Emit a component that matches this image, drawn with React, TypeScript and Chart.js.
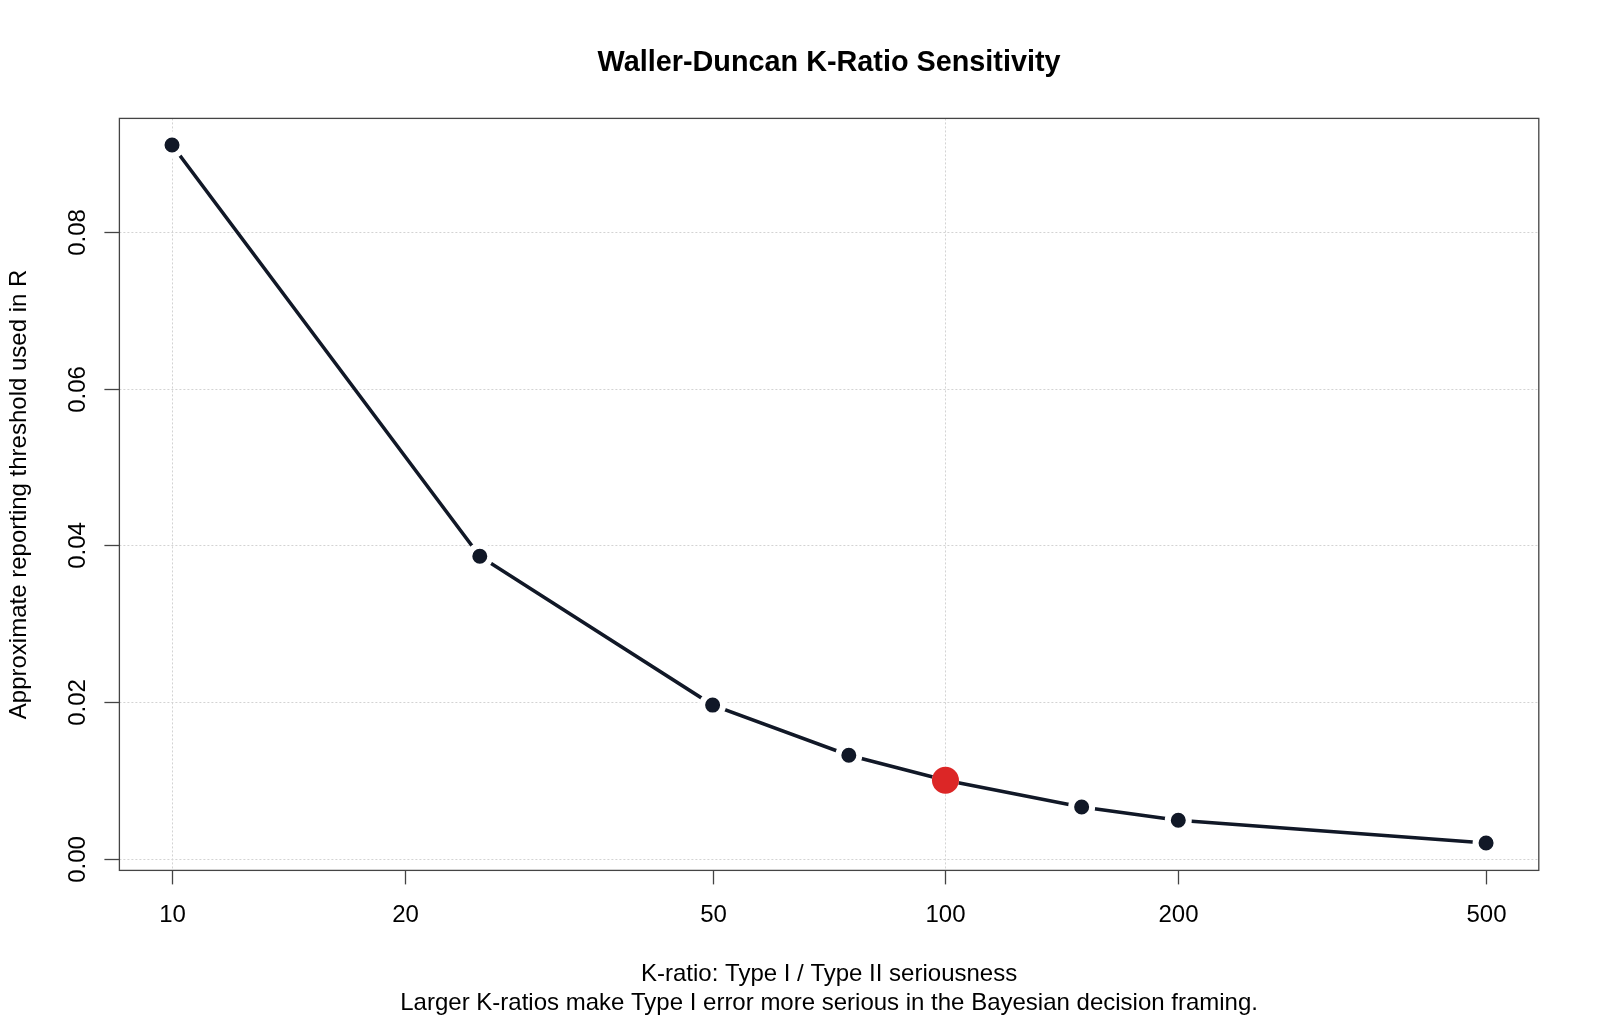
import React, { useEffect, useRef } from "react";
import { Chart, registerables } from "chart.js";

Chart.register(...registerables);

const kRatios = [10, 25, 50, 75, 100, 150, 200, 500];
const thresholds = [0.0911, 0.0386, 0.0196, 0.0132, 0.01, 0.0066, 0.0049, 0.002];
const highlightK = [100];
const highlightThreshold = [0.01];
const xTickValues = [10, 20, 50, 100, 200, 500];
const xGridValues = [10, 100];
const yTickValues = [0, 0.02, 0.04, 0.06, 0.08];
const yTickLabels = ["0.00", "0.02", "0.04", "0.06", "0.08"];

const titleText = "Waller-Duncan K-Ratio Sensitivity";
const xTitle = "K-ratio: Type I / Type II seriousness";
const subTitle = "Larger K-ratios make Type I error more serious in the Bayesian decision framing.";
const yTitle = "Approximate reporting threshold used in R";

const FONT = '"Liberation Sans", Arial, Helvetica, sans-serif';

const rAxesPlugin = {
  id: "rAxes",
  beforeDatasetsDraw(chart: any) {
    const { ctx, chartArea, scales } = chart;
    const x = scales.x;
    const y = scales.y;
    ctx.save();
    ctx.strokeStyle = "#d3d3d3";
    ctx.lineWidth = 1;
    ctx.setLineDash([2, 2]);
    yTickValues.forEach((v) => {
      const py = Math.round(y.getPixelForValue(v)) + 0.5;
      ctx.beginPath();
      ctx.moveTo(chartArea.left, py);
      ctx.lineTo(chartArea.right, py);
      ctx.stroke();
    });
    xGridValues.forEach((v) => {
      const px = Math.round(x.getPixelForValue(v)) + 0.5;
      ctx.beginPath();
      ctx.moveTo(px, chartArea.top);
      ctx.lineTo(px, chartArea.bottom);
      ctx.stroke();
    });
    ctx.restore();
  },
  afterDraw(chart: any) {
    const { ctx, chartArea, scales } = chart;
    const x = scales.x;
    const y = scales.y;
    ctx.save();
    ctx.setLineDash([]);
    ctx.strokeStyle = "#444444";
    ctx.lineWidth = 1.3;
    ctx.strokeRect(chartArea.left, chartArea.top, chartArea.right - chartArea.left, chartArea.bottom - chartArea.top);

    ctx.fillStyle = "#000000";
    ctx.font = `24px ${FONT}`;
    ctx.textAlign = "center";
    ctx.textBaseline = "middle";
    xTickValues.forEach((v) => {
      const px = Math.round(x.getPixelForValue(v)) + 0.5;
      ctx.beginPath();
      ctx.moveTo(px, chartArea.bottom);
      ctx.lineTo(px, chartArea.bottom + 14);
      ctx.stroke();
      ctx.fillText(String(v), px, 915);
    });
    yTickValues.forEach((v, i) => {
      const py = Math.round(y.getPixelForValue(v)) + 0.5;
      ctx.beginPath();
      ctx.moveTo(chartArea.left, py);
      ctx.lineTo(chartArea.left - 15, py);
      ctx.stroke();
      ctx.save();
      ctx.translate(78, py);
      ctx.rotate(-Math.PI / 2);
      ctx.fillText(yTickLabels[i], 0, 0);
      ctx.restore();
    });
    const cx = (chartArea.left + chartArea.right) / 2;
    ctx.font = `bold 28.8px ${FONT}`;
    ctx.fillText(titleText, cx, 63);
    ctx.font = `24px ${FONT}`;
    ctx.fillText(xTitle, cx, 974);
    ctx.fillText(subTitle, cx, 1003);
    ctx.save();
    ctx.translate(19, (chartArea.top + chartArea.bottom) / 2);
    ctx.rotate(-Math.PI / 2);
    ctx.fillText(yTitle, 0, 0);
    ctx.restore();
    ctx.restore();
  },
};

export default function App() {
  const ref = useRef<HTMLCanvasElement | null>(null);
  useEffect(() => {
    if (!ref.current) return;
    const mainData = kRatios.map((k, i) => ({ x: k, y: thresholds[i] }));
    const hiData = highlightK.map((k, i) => ({ x: k, y: highlightThreshold[i] }));
    const chart = new Chart(ref.current, {
      type: "line",
      data: {
        datasets: [
          {
            label: "K = 100",
            data: hiData,
            showLine: false,
            pointRadius: 13.5,
            pointBorderWidth: 0,
            pointBackgroundColor: "#dc2626",
            pointBorderColor: "#dc2626",
            borderColor: "#dc2626",
          },
          {
            label: "Threshold",
            data: mainData,
            borderColor: "#111827",
            borderWidth: 3.6,
            pointRadius: 10.5,
            pointBorderWidth: 6,
            pointBorderColor: "#ffffff",
            pointBackgroundColor: "#111827",
            tension: 0,
          },
        ],
      },
      plugins: [rAxesPlugin],
      options: {
        animation: false,
        responsive: false,
        maintainAspectRatio: false,
        devicePixelRatio: 1,
        layout: { padding: { left: 119.4, top: 118.4, right: 61.2, bottom: 147.6 } },
        plugins: { legend: { display: false }, title: { display: false }, tooltip: { enabled: false } },
        scales: {
          x: { type: "logarithmic", display: false, min: 8.55, max: 585 },
          y: { type: "linear", display: false, min: -0.0015, max: 0.0945 },
        },
      },
    } as any);
    return () => chart.destroy();
  }, []);
  return (
    <div style={{ position: "fixed", left: 0, top: 0, width: 1600, height: 1018, background: "#fff" }}>
      <canvas ref={ref} width={1600} height={1018} style={{ width: 1600, height: 1018 }} />
    </div>
  );
}
